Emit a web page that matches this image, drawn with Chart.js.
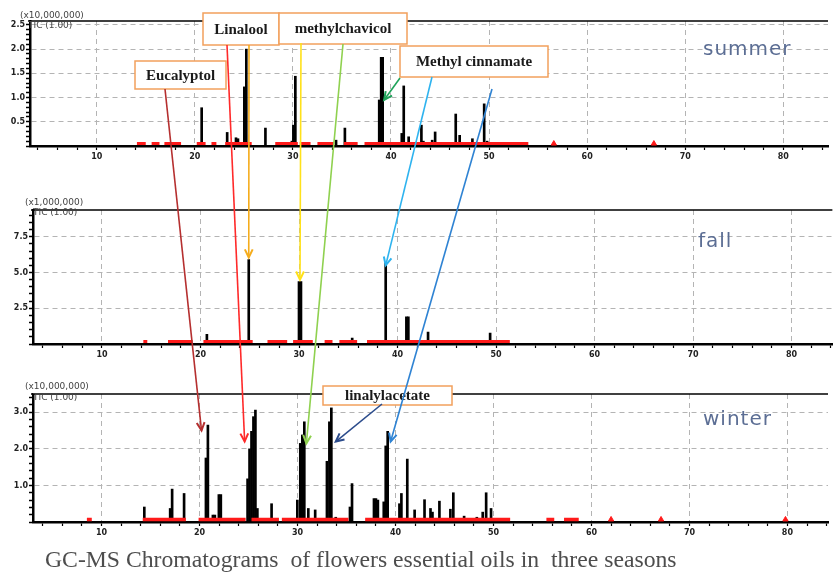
<!DOCTYPE html>
<html>
<head>
<meta charset="utf-8">
<script src="https://cdn.jsdelivr.net/npm/chart.js@4.4.1/dist/chart.umd.min.js"></script>
<style>
  html, body { margin: 0; padding: 0; background: #fff; }
  #wrap { position: relative; width: 833px; height: 574px; overflow: hidden; background: #fff; }
  #wrap canvas { position: absolute; left: 0; }
  #overlay { top: 0; pointer-events: none; }
</style>
</head>
<body>
<div id="wrap">
  <canvas id="summer" width="833" height="175" style="top:0px"></canvas>
  <canvas id="fall" width="833" height="180" style="top:185px"></canvas>
  <canvas id="winter" width="833" height="170" style="top:370px"></canvas>
  <canvas id="overlay" width="833" height="574"></canvas>
</div>
<script>
// retention time (min) and abundance
// summer, x10,000,000
const summerTime  = [20.7, 23.3, 24.2, 24.4, 25.05, 25.25, 27.2, 29.9, 30.05, 30.25, 34.4, 35.3, 38.8, 39.0, 39.15, 41.1, 41.3, 41.8, 43.1, 43.3, 44.2, 44.5, 46.6, 47.0, 48.3, 49.5, 49.8];
const summerAbund = [0.79, 0.28, 0.17, 0.15, 1.22, 2.0, 0.37, 0.1, 0.43, 1.44, 0.12, 0.37, 0.95, 1.83, 1.83, 0.26, 1.24, 0.19, 0.43, 0.1, 0.12, 0.29, 0.66, 0.22, 0.15, 0.87, 0.1];
// fall, x1,000,000
const fallTime  = [20.65, 24.9, 30.0, 30.2, 35.4, 38.8, 40.9, 41.1, 43.1, 49.4];
const fallAbund = [0.68, 5.9, 4.37, 4.37, 0.42, 5.68, 1.9, 1.9, 0.84, 0.77];
// winter, x10,000,000
const winterTime  = [14.36, 17.0, 17.2, 18.42, 20.65, 20.85, 21.36, 21.56, 21.97, 22.17, 24.9, 25.1, 25.3, 25.5, 25.7, 25.9, 27.35, 29.98, 30.28, 30.49, 30.69, 31.1, 31.8, 33.0, 33.25, 33.45, 33.9, 35.35, 35.56, 37.8, 38.0, 38.2, 38.8, 39.0, 39.2, 40.4, 40.6, 41.2, 41.95, 42.96, 43.57, 43.77, 44.48, 45.6, 45.9, 47.0, 48.3, 48.9, 49.25, 49.75];
const winterAbund = [0.41, 0.37, 0.9, 0.78, 1.75, 2.65, 0.19, 0.19, 0.75, 0.75, 1.18, 2.0, 2.48, 2.88, 3.06, 0.37, 0.5, 0.6, 2.15, 2.38, 2.74, 0.37, 0.33, 1.66, 2.74, 3.12, 0.13, 0.41, 1.05, 0.64, 0.64, 0.6, 0.55, 2.08, 2.48, 0.5, 0.78, 1.72, 0.33, 0.61, 0.37, 0.27, 0.57, 0.35, 0.8, 0.16, 0.13, 0.27, 0.8, 0.37];

// baseline noise (red): runs [from, to] and isolated blips, in minutes
const summerNoiseRuns = [[14.1, 15.0], [15.6, 16.4], [16.9, 18.6], [20.2, 21.1], [21.7, 22.2], [23.1, 25.8], [28.2, 30.5], [30.7, 31.8], [32.5, 34.2], [35.2, 36.6], [37.3, 54.0]];
const summerNoiseBlips = [56.6, 66.8];
const fallNoiseRuns = [[14.2, 14.6], [16.7, 19.2], [20.3, 25.3], [26.8, 28.8], [29.4, 31.4], [32.6, 33.4], [34.1, 35.9], [36.9, 51.4]];
const fallNoiseBlips = [];
const winterNoiseRuns = [[8.5, 9.0], [14.2, 18.6], [19.9, 24.7], [25.3, 28.1], [28.4, 35.2], [36.9, 51.7], [55.4, 56.2], [57.2, 58.7]];
const winterNoiseBlips = [62.0, 67.1, 79.8];
const summerNoise = 0.05, fallNoise = 0.18, winterNoise = 0.07;

// compound labels and where their arrows point (panel, time, abundance)
const compounds = ['Eucalyptol', 'Linalool', 'methylchavicol', 'Methyl cinnamate', 'linalylacetate'];
const arrowTargets = [
  ['winter', 20.2, 2.5], ['winter', 24.6, 2.2], ['fall', 24.9, 6.05], ['fall', 30.1, 4.5],
  ['winter', 30.9, 2.15], ['summer', 39.3, 0.95], ['fall', 38.8, 5.5], ['winter', 39.5, 2.2], ['winter', 33.9, 2.2]
];

const seasons = ['summer', 'fall', 'winter'];
const multipliers = ['(x10,000,000)', '(x1,000,000)', '(x10,000,000)'];
const caption = 'GC-MS Chromatograms  of flowers essential oils in  three seasons';

function isStep(v, step) {
  const r = v / step;
  return Math.abs(r - Math.round(r)) < 1e-6;
}

const topBorder = {
  id: 'topBorder',
  afterDraw(chart) {
    const { ctx, chartArea: a } = chart;
    ctx.save();
    ctx.strokeStyle = '#000';
    ctx.lineWidth = 1.5;
    ctx.beginPath();
    ctx.moveTo(a.left - 2, a.top);
    ctx.lineTo(a.right, a.top);
    ctx.stroke();
    ctx.restore();
  }
};

const tickFont = { family: 'DejaVu Sans', size: 8, weight: 'bold' };

function buildChart(id, cfg) {
  const peaks = cfg.time.map((t, i) => ({ x: t, y: cfg.abund[i] }));
  const runs = [];
  cfg.runs.forEach(r => {
    runs.push({ x: r[0], y: cfg.noise }, { x: r[1], y: cfg.noise }, { x: r[1], y: null });
  });
  const blips = cfg.blips.map(x => ({ x: x, y: cfg.noise }));

  return new Chart(document.getElementById(id), {
    type: 'bar',
    data: {
      datasets: [
        { type: 'line', data: runs, borderColor: '#ff1a1a', borderWidth: cfg.noiseWidth, pointRadius: 0, spanGaps: false, order: 0 },
        { type: 'line', data: blips, showLine: false, pointStyle: 'triangle', pointRadius: 3,
          pointBackgroundColor: '#ff1a1a', pointBorderColor: '#ff1a1a', order: 0 },
        { data: peaks, backgroundColor: '#000', barThickness: 2, order: 1 }
      ]
    },
    options: {
      responsive: false,
      animation: false,
      layout: { padding: { top: cfg.padTop, right: 0, left: 0, bottom: 0 } },
      plugins: { legend: { display: false }, tooltip: { enabled: false } },
      scales: {
        x: {
          type: 'linear', min: cfg.xMin, max: cfg.xMax, offset: false,
          afterFit: s => { s.height = cfg.xH; },
          border: { color: '#000', width: 2.5, dash: [5, 4] },
          grid: {
            offset: false, lineWidth: 1, tickColor: '#000', tickLength: 4, tickWidth: 1.2,
            color: c => (c.tick && isStep(c.tick.value, 10)) ? '#b4b4b4' : 'rgba(0,0,0,0)'
          },
          ticks: {
            stepSize: 2, includeBounds: false, autoSkip: false, maxRotation: 0, padding: 2,
            color: '#222', font: tickFont,
            callback: v => isStep(v, 10) ? String(Math.round(v)) : ''
          }
        },
        y: {
          min: 0, max: cfg.yMax,
          afterFit: s => { s.width = cfg.yW; },
          border: { color: '#000', width: 2.5, dash: [5, 4] },
          grid: {
            tickColor: '#000', tickLength: 4, tickWidth: 1.5,
            color: c => (c.tick && c.tick.value > 0 && isStep(c.tick.value, cfg.yMajor)) ? '#b4b4b4' : 'rgba(0,0,0,0)'
          },
          ticks: {
            stepSize: cfg.yMinor, includeBounds: false, autoSkip: false, padding: 1,
            color: '#222', font: tickFont,
            callback: v => (v > 0 && isStep(v, cfg.yMajor)) ? v.toFixed(1) : ''
          }
        }
      }
    },
    plugins: [topBorder]
  });
}

const charts = {
  summer: buildChart('summer', {
    time: summerTime, abund: summerAbund, runs: summerNoiseRuns, blips: summerNoiseBlips, noise: summerNoise, noiseWidth: 3,
    xMin: 3.2, xMax: 84.55, yMax: 2.58, yMinor: 0.1, yMajor: 0.5, padTop: 21, xH: 29, yW: 30
  }),
  fall: buildChart('fall', {
    time: fallTime, abund: fallAbund, runs: fallNoiseRuns, blips: fallNoiseBlips, noise: fallNoise, noiseWidth: 3,
    xMin: 3.0, xMax: 84.14, yMax: 9.37, yMinor: 0.5, yMajor: 2.5, padTop: 25, xH: 21, yW: 33
  }),
  winter: buildChart('winter', {
    time: winterTime, abund: winterAbund, runs: winterNoiseRuns, blips: winterNoiseBlips, noise: winterNoise, noiseWidth: 3.5,
    xMin: 3.0, xMax: 84.14, yMax: 3.5, yMinor: 0.2, yMajor: 1.0, padTop: 24, xH: 18, yW: 33
  })
};
const offsets = { summer: 0, fall: 185, winter: 370 };

function toPage(name, x, y) {
  const ch = charts[name];
  return [ch.scales.x.getPixelForValue(x), offsets[name] + ch.scales.y.getPixelForValue(y)];
}

// overlay: annotation boxes, arrows, season names, caption
const ov = document.getElementById('overlay').getContext('2d');

// multiplier labels
const multPos = [[20, 16, 28, 26], [25, 203, 33, 213], [25, 387, 33, 398]];
ov.fillStyle = '#444';
ov.font = '9px "DejaVu Sans"';
ov.textBaseline = 'middle';
multipliers.forEach((m, i) => {
  const p = multPos[i];
  ov.fillText(m, p[0], p[1]);
  ov.fillText('TIC (1.00)', p[2], p[3]);
});

// season names
const seasonPos = [[703, 55], [698, 247], [703, 425]];
ov.fillStyle = '#5c6e94';
ov.font = '20px "DejaVu Sans"';
ov.textBaseline = 'alphabetic';
ov.letterSpacing = '1px';
seasons.forEach((s, i) => ov.fillText(s, seasonPos[i][0], seasonPos[i][1]));
ov.letterSpacing = '0px';

// boxes
const boxes = [[135, 61, 91, 28], [203, 13, 76, 32], [279, 13, 128, 31], [400, 46, 148, 31], [323, 386, 129, 19]];
compounds.forEach((c, i) => {
  const b = boxes[i];
  ov.fillStyle = '#fff';
  ov.fillRect(b[0], b[1], b[2], b[3]);
  ov.strokeStyle = '#f2a05c';
  ov.lineWidth = 1.5;
  ov.strokeRect(b[0], b[1], b[2], b[3]);
  ov.fillStyle = '#1a1a1a';
  ov.font = 'bold 15px "Liberation Serif"';
  ov.textAlign = 'center';
  ov.textBaseline = 'middle';
  ov.fillText(c, b[0] + b[2] / 2, b[1] + b[3] / 2 + 1);
});
ov.textAlign = 'left';

// arrows: start on the boxes, end on the peaks
const arrowStarts = [[165, 89], [227, 45], [249, 45], [301, 43], [343, 44], [400, 78], [432, 77], [492, 89], [382, 404]];
const arrowColors = ['#b52f2f', '#ff2a2a', '#f5ac1c', '#ffe11a', '#8fd14f', '#1fa35a', '#2eb3ef', '#2f83d3', '#2c4c8c'];
arrowTargets.forEach((t, i) => {
  const [x1, y1] = arrowStarts[i];
  const [x2, y2] = toPage(t[0], t[1], t[2]);
  ov.strokeStyle = arrowColors[i];
  ov.lineWidth = 1.6;
  ov.beginPath();
  ov.moveTo(x1, y1);
  ov.lineTo(x2, y2);
  ov.stroke();
  const a = Math.atan2(y2 - y1, x2 - x1), L = 9, w = 0.45;
  ov.lineWidth = 2;
  ov.beginPath();
  ov.moveTo(x2 - L * Math.cos(a - w), y2 - L * Math.sin(a - w));
  ov.lineTo(x2, y2);
  ov.lineTo(x2 - L * Math.cos(a + w), y2 - L * Math.sin(a + w));
  ov.stroke();
});

// caption
ov.fillStyle = '#4d4d4d';
ov.font = '20px "Liberation Serif"';
let capSize = 20 * 633 / ov.measureText(caption).width;
ov.font = capSize.toFixed(1) + 'px "Liberation Serif"';
ov.textBaseline = 'alphabetic';
ov.fillText(caption, 45, 567);
</script>
</body>
</html>
